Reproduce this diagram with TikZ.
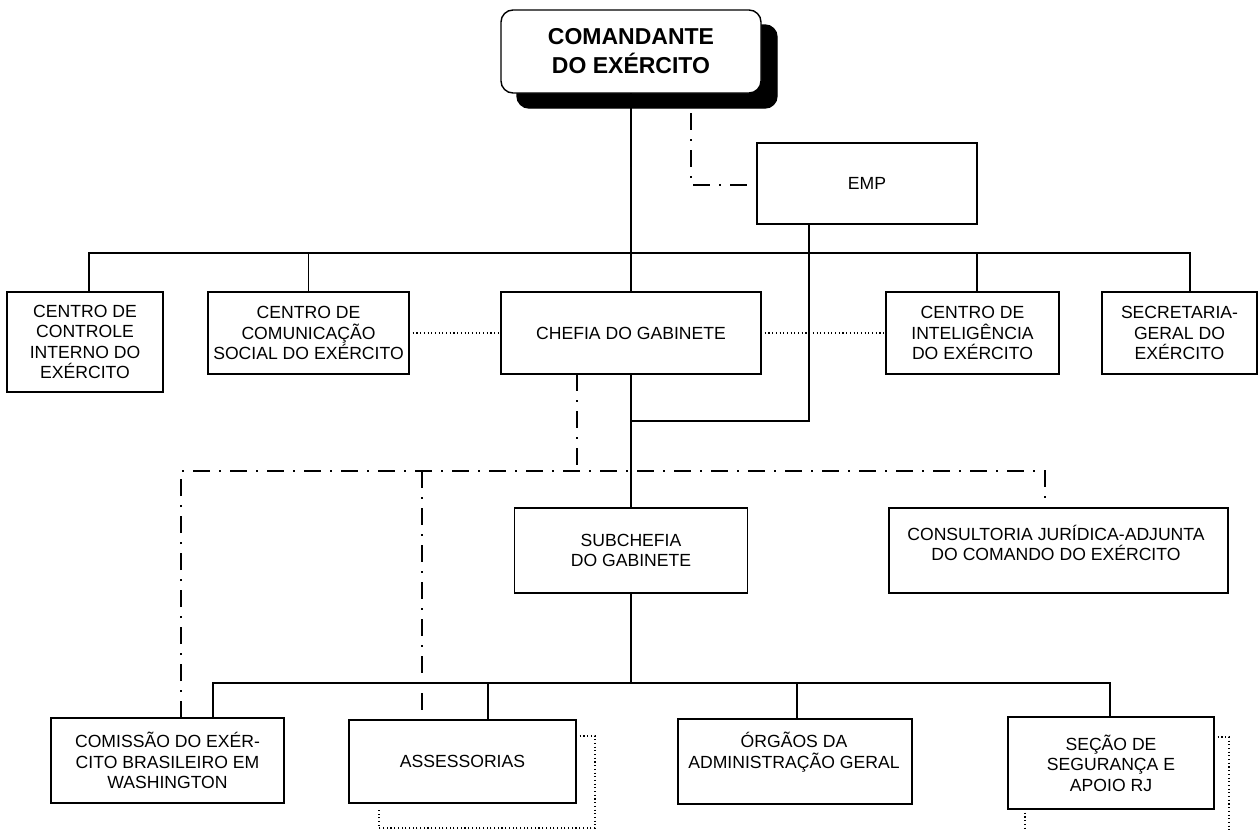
\documentclass[tikz,border=0pt]{standalone}
\usepackage{fontspec}
\setmainfont{Liberation Sans}
\begin{document}
\begin{tikzpicture}[x=1pt,y=-1pt,
 orgbox/.style={draw=black, line width=1.4pt, inner sep=0pt, outer sep=0pt, align=center, font=\fontsize{17.6}{20.5}\selectfont},
 txt/.style={inner sep=0pt, align=center, font=\fontsize{17.6}{20.5}\selectfont},
 conn/.style={line width=1.4pt},
 dashdot/.style={line width=1.4pt, dash pattern=on 17pt off 9pt on 2pt off 9pt},
 dotln/.style={line width=1.1pt, dash pattern=on 1.1pt off 2.6pt}]
\useasboundingbox (0,0) rectangle (1259,830);

% coordinates
\coordinate (busL) at (89,253);
\coordinate (busR) at (1190,253);
\coordinate (cieX) at (977,253);
\coordinate (empX) at (809,421);
\coordinate (bus2L) at (213,683);
\coordinate (bus2R) at (1110,683);
\coordinate (assX) at (488,683);
\coordinate (orgX) at (797,683);
\coordinate (ddL) at (181,471);
\coordinate (ddR) at (1045,471);
\coordinate (ddC) at (577,471);
\coordinate (ddA) at (422,471);
\coordinate (cmdDD) at (691,113);
\coordinate (empDD) at (691,185);
\coordinate (assR) at (595,736);
\coordinate (assB) at (379,828);
\coordinate (assB0) at (379,809);
\coordinate (secR) at (1229,737);
\coordinate (secRB) at (1229,830);
\coordinate (secB) at (1025,830);

% boxes
\node[orgbox, fill=black, rounded corners=12pt, minimum width=260pt, minimum height=83pt] (cmdshadow) at (647,66.5) {};
\node[orgbox, fill=white, rounded corners=12pt, minimum width=260pt, minimum height=83pt, font=\fontsize{23}{29}\selectfont\bfseries] (cmd) at (631,51.5) {COMANDANTE\\DO EXÉRCITO};
\node[orgbox, minimum width=220pt, minimum height=81pt] (emp) at (867,183.5) {EMP};

\node[orgbox, minimum width=156pt, minimum height=100pt] (cci) at (85,342) {CENTRO DE\\CONTROLE\\INTERNO DO\\EXÉRCITO};
\node[orgbox, minimum width=201pt, minimum height=82pt] (ccs) at (308.5,333) {CENTRO DE\\COMUNICAÇÃO\\SOCIAL DO EXÉRCITO};
\node[orgbox, minimum width=260pt, minimum height=82pt] (chefia) at (631,333) {CHEFIA DO GABINETE};
\node[orgbox, minimum width=173pt, minimum height=82pt] (cie) at (972.5,333) {CENTRO DE\\INTELIGÊNCIA\\DO EXÉRCITO};
\node[orgbox, minimum width=155pt, minimum height=82pt] (sge) at (1179.5,333) {SECRETARIA-\\GERAL DO\\EXÉRCITO};

\node[orgbox, minimum width=233pt, minimum height=85pt] (sub) at (631,550.5) {SUBCHEFIA\\DO GABINETE};
\node[orgbox, minimum width=339pt, minimum height=85pt] (cja) at (1058.5,550.5) {};
\node[txt] (cjat) at (1056,543) {CONSULTORIA JURÍDICA-ADJUNTA\\DO COMANDO DO EXÉRCITO};

\node[orgbox, minimum width=233pt, minimum height=85pt] (com) at (167.5,760.5) {COMISSÃO DO EXÉR-\\CITO BRASILEIRO EM\\WASHINGTON};
\node[orgbox, minimum width=227pt, minimum height=83pt] (ass) at (462.5,761.5) {ASSESSORIAS};
\node[orgbox, minimum width=234pt, minimum height=85pt] (org) at (795,761.5) {};
\node[txt] (orgt) at (794,752) {ÓRGÃOS DA\\ADMINISTRAÇÃO GERAL};
\node[orgbox, minimum width=206pt, minimum height=92pt] (sec) at (1111,763) {SEÇÃO DE\\SEGURANÇA E\\APOIO RJ};

% solid connectors
\draw[conn] (cmd.south) -- (chefia.north);
\draw[conn] (cci.north -| busL) -- (busL) -- (busR) -- (sge.north -| busR);
\draw[conn] (ccs.north) -- (ccs.north |- busL);
\draw[conn] (cieX) -- (cie.north -| cieX);
\draw[conn] (emp.south -| empX) -- (empX) -- (empX -| chefia.south);
\draw[conn] (chefia.south) -- (sub.north);
\draw[conn] (sub.south) -- (sub.south |- bus2L);
\draw[conn] (com.north -| bus2L) -- (bus2L) -- (bus2R) -- (sec.north -| bus2R);
\draw[conn] (assX) -- (ass.north -| assX);
\draw[conn] (orgX) -- (org.north -| orgX);

% dash-dot connectors
\draw[dashdot] (cmdDD) -- (empDD) -- (emp.west |- empDD);
\draw[dashdot] (chefia.south -| ddC) -- (ddC);
\draw[dashdot] (com.north -| ddL) -- (ddL) -- (ddR) -- (cja.north -| ddR);
\draw[dashdot] (ddA) -- (ass.north -| ddA);

% dotted connectors
\draw[dotln] (ccs.east) -- (chefia.west);
\draw[dotln] (chefia.east) -- (cie.west);
\draw[dotln] (ass.east |- assR) -- (assR) -- (assR |- assB) -- (assB) -- (assB0);
\draw[dotln] (sec.east |- secR) -- (secR) -- (secRB);
\draw[dotln] (sec.south -| secB) -- (secB);
\end{tikzpicture}
\end{document}
